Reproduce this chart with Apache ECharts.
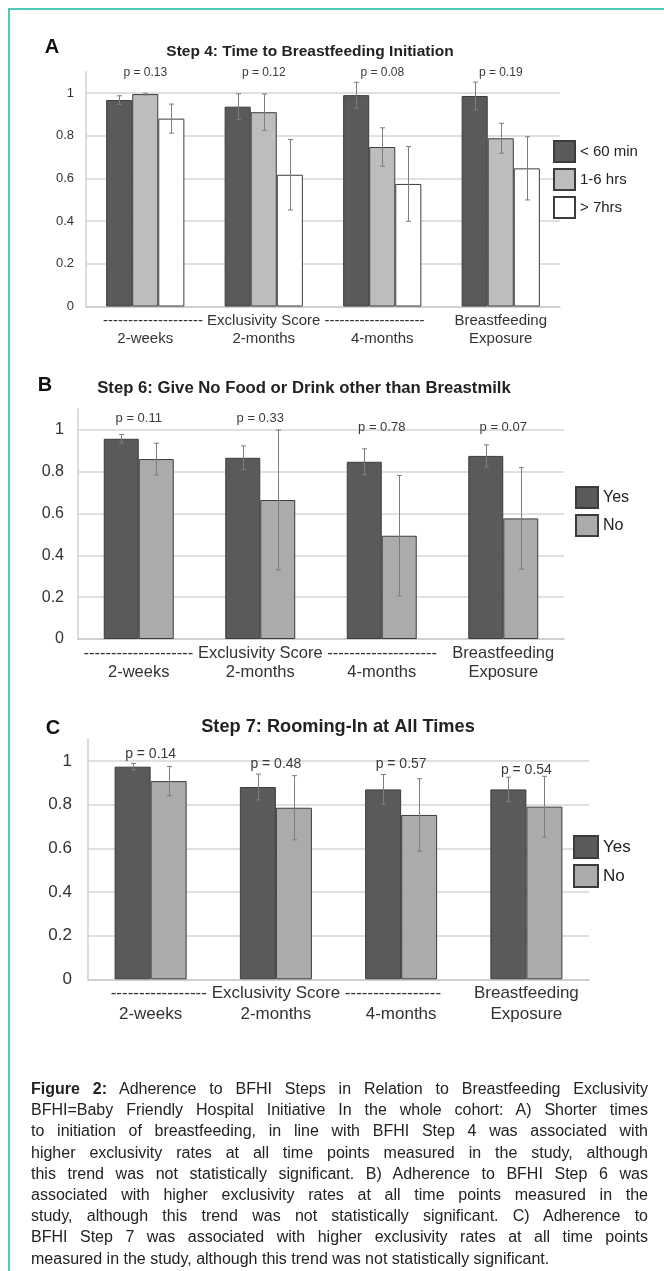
<!DOCTYPE html>
<html>
<head>
<meta charset="utf-8">
<script src="https://cdn.jsdelivr.net/npm/echarts@6/dist/echarts.min.js"></script>
<style>
  html, body { margin: 0; padding: 0; background: #fff; }
  #wrap { position: relative; width: 664px; height: 1271px; overflow: hidden; }
  #chart { position: absolute; left: 0; top: 0; width: 664px; height: 1271px; }
  #frame { position: absolute; left: 8px; top: 8px; width: 720px; height: 1300px;
           border-top: 2px solid #4fcab6; border-left: 2px solid #4fcab6; }
  #caption { position: absolute; left: 31px; top: 1078px; width: 617px;
             font-family: "Liberation Sans", Arial, sans-serif; font-size: 16px;
             line-height: 21.2px; color: #222; }
  #caption .ln { text-align: justify; text-align-last: justify; white-space: nowrap; }
  #caption .ln.last { text-align: left; text-align-last: left; }
</style>
</head>
<body>
<div id="wrap">
  <div id="chart"></div>
  <div id="frame"></div>
  <div id="caption"></div>
</div>
<script>
// ---------- DATA ----------
const categories = ['2-weeks', '2-months', '4-months', 'Breastfeeding Exposure'];
const groupLabel = 'Exclusivity Score';

// Panel A: Step 4, time to breastfeeding initiation
const titleA = 'Step 4: Time to Breastfeeding Initiation';
const seriesNamesA = ['< 60 min', '1-6 hrs', '> 7hrs'];
const aLess60 = [0.967, 0.936, 0.990, 0.986];
const aLess60Err = [0.020, 0.060, 0.060, 0.065];
const a1to6 = [0.995, 0.910, 0.747, 0.788];
const a1to6Err = [0.004, 0.085, 0.090, 0.070];
const aOver7 = [0.880, 0.617, 0.574, 0.647];
const aOver7Err = [0.068, 0.165, 0.175, 0.148];
const pA = ['p = 0.13', 'p = 0.12', 'p = 0.08', 'p = 0.19'];
const pAtA = [1.094, 1.094, 1.094, 1.094];

// Panel B: Step 6
const titleB = 'Step 6: Give No Food or Drink other than Breastmilk';
const seriesNamesB = ['Yes', 'No'];
const bYes = [0.958, 0.867, 0.848, 0.876];
const bYesErr = [0.020, 0.057, 0.062, 0.053];
const bNo = [0.861, 0.665, 0.494, 0.577];
const bNoErr = [0.076, 0.335, 0.288, 0.243];
const pB = ['p = 0.11', 'p = 0.33', 'p = 0.78', 'p = 0.07'];
const pAtB = [1.057, 1.057, 1.010, 1.010];

// Panel C: Step 7
const titleC = 'Step 7: Rooming-In at All Times';
const seriesNamesC = ['Yes', 'No'];
const cYes = [0.974, 0.881, 0.870, 0.870];
const cYesErr = [0.015, 0.059, 0.068, 0.056];
const cNo = [0.908, 0.786, 0.753, 0.791];
const cNoErr = [0.067, 0.147, 0.166, 0.139];
const pC = ['p = 0.14', 'p = 0.48', 'p = 0.57', 'p = 0.54'];
const pAtC = [1.032, 0.986, 0.986, 0.959];

const yTicks = [0, 0.2, 0.4, 0.6, 0.8, 1];

const captionLines = [
  '<b>Figure 2:</b> Adherence to BFHI Steps in Relation to Breastfeeding Exclusivity',
  'BFHI=Baby Friendly Hospital Initiative In the whole cohort: A) Shorter times',
  'to initiation of breastfeeding, in line with BFHI Step 4 was associated with',
  'higher exclusivity rates at all time points measured in the study, although',
  'this trend was not statistically significant. B) Adherence to BFHI Step 6 was',
  'associated with higher exclusivity rates at all time points measured in the',
  'study, although this trend was not statistically significant. C) Adherence to',
  'BFHI Step 7 was associated with higher exclusivity rates at all time points',
  'measured in the study, although this trend was not statistically significant.'
];

// ---------- STYLE / LAYOUT ----------
const FONT = '"Liberation Sans", Arial, sans-serif';
const DARK = '#5a5a5a', GREY_A = '#bdbdbd', GREY = '#ababab', WHITE = '#ffffff';
const BORDER = '#3c3c3c';

const panels = [
  { letter: 'A', letterPos: [52, 47], letterSize: 20,
    title: titleA, titlePos: [310, 52], titleSize: 15.5,
    grid: { left: 86, top: 71.65, width: 474, height: 234.85 },
    gap: 0.34, names: seriesNamesA,
    values: [aLess60, a1to6, aOver7], errs: [aLess60Err, a1to6Err, aOver7Err],
    colors: [DARK, GREY_A, WHITE],
    p: pA, pAt: pAtA, pSize: 12,
    yFont: 13, yMargin: 12, xFont: 15, xLine: 18, xMargin: 5, dashes: 20,
    legend: { left: 553, top: 140, w: 21, h: 21, gap: 5, font: 15 } },
  { letter: 'B', letterPos: [45, 385], letterSize: 20,
    title: titleB, titlePos: [304, 388], titleSize: 16.7,
    grid: { left: 78, top: 409.1, width: 486, height: 229.9 },
    gap: 0.424, names: seriesNamesB,
    values: [bYes, bNo], errs: [bYesErr, bNoErr],
    colors: [DARK, GREY],
    p: pB, pAt: pAtB, pSize: 13,
    yFont: 16, yMargin: 14, xFont: 16.5, xLine: 19, xMargin: 4.5, dashes: 20,
    legend: { left: 575, top: 486, w: 22, h: 21, gap: 5, font: 16 } },
  { letter: 'C', letterPos: [53, 728], letterSize: 20,
    title: titleC, titlePos: [338, 727], titleSize: 18.2,
    grid: { left: 88, top: 739.2, width: 501, height: 240.1 },
    gap: 0.425, names: seriesNamesC,
    values: [cYes, cNo], errs: [cYesErr, cNoErr],
    colors: [DARK, GREY],
    p: pC, pAt: pAtC, pSize: 14,
    yFont: 17, yMargin: 16, xFont: 17, xLine: 21, xMargin: 3.5, dashes: 17,
    legend: { left: 573, top: 835, w: 24, h: 22, gap: 5, font: 17 } }
];

// ---------- BUILD ----------
function errRender(n, idx, gap) {
  return function (params, api) {
    const cat = api.value(0), v = api.value(1), e = api.value(2);
    const band = api.size([1, 0])[0];
    const bw = band * (1 - gap) / n;
    const x = Math.round(api.coord([cat, 0])[0] + (idx - (n - 1) / 2) * bw) + 0.5;
    const yT = api.coord([cat, v + e])[1];
    const yB = api.coord([cat, v - e])[1];
    const st = { stroke: '#7d7d7d', lineWidth: 1 };
    return { type: 'group', children: [
      { type: 'line', shape: { x1: x, y1: yT, x2: x, y2: yB }, style: st },
      { type: 'line', shape: { x1: x - 2.5, y1: yT, x2: x + 2.5, y2: yT }, style: st },
      { type: 'line', shape: { x1: x - 2.5, y1: yB, x2: x + 2.5, y2: yB }, style: st }
    ] };
  };
}
function pRender(size) {
  return function (params, api) {
    const pt = api.coord([api.value(0), api.value(1)]);
    return { type: 'text', x: pt[0], y: pt[1],
      style: { text: pTexts[params.seriesIndex][params.dataIndex], fill: '#3a3a3a',
               font: size + 'px ' + FONT, align: 'center', verticalAlign: 'middle' } };
  };
}
const pTexts = {};

const grids = [], xAxes = [], yAxes = [], series = [], legends = [], graphics = [];
panels.forEach(function (P, k) {
  grids.push(P.grid);
  const dash = '-'.repeat(P.dashes);
  xAxes.push({
    type: 'category', gridIndex: k, data: categories,
    axisLine: { show: true, lineStyle: { color: '#c9c9c9', width: 1.5 } },
    axisTick: { show: false },
    axisLabel: {
      interval: 0, hideOverlap: false, margin: P.xMargin,
      fontFamily: FONT, fontSize: P.xFont, lineHeight: P.xLine, color: '#333',
      formatter: function (value, index) {
        if (index === 1) return dash + ' ' + groupLabel + ' ' + dash + '\n' + value;
        if (value.indexOf(' ') >= 0) return value.replace(' ', '\n');
        return '\n' + value;
      }
    }
  });
  yAxes.push({
    type: 'value', gridIndex: k, min: 0, max: 1.1, interval: 0.2,
    axisLine: { show: true, lineStyle: { color: '#d0d0d0', width: 1.5 } },
    axisTick: { show: false },
    splitLine: { show: true, showMaxLine: false, lineStyle: { color: '#d6d6d6', width: 1.5 } },
    axisLabel: { showMaxLabel: false, margin: P.yMargin, fontFamily: FONT, fontSize: P.yFont, color: '#333',
      formatter: function (v) { return yTicks.indexOf(Math.round(v * 10) / 10) >= 0 ? String(Math.round(v * 10) / 10) : ''; } }
  });
  const n = P.values.length;
  P.values.forEach(function (vals, i) {
    series.push({
      type: 'bar', name: P.names[i], xAxisIndex: k, yAxisIndex: k,
      data: vals, barGap: '0%', barCategoryGap: (P.gap * 100) + '%',
      itemStyle: { color: P.colors[i], borderColor: BORDER, borderWidth: 1 },
      emphasis: { disabled: true }, animation: false
    });
  });
  P.values.forEach(function (vals, i) {
    series.push({
      type: 'custom', xAxisIndex: k, yAxisIndex: k, z: 5, silent: true,
      renderItem: errRender(n, i, P.gap),
      data: vals.map(function (v, j) { return [j, v, P.errs[i][j]]; }),
      animation: false
    });
  });
  pTexts[series.length] = P.p;
  series.push({
    type: 'custom', xAxisIndex: k, yAxisIndex: k, z: 6, silent: true,
    renderItem: pRender(P.pSize), clip: false,
    data: P.pAt.map(function (v, j) { return [j, v]; }),
    animation: false
  });
  legends.push({
    orient: 'vertical', left: P.legend.left, top: P.legend.top, padding: 0,
    itemWidth: P.legend.w, itemHeight: P.legend.h, itemGap: P.legend.gap,
    icon: 'rect', selectedMode: false, data: P.names,
    textStyle: { fontFamily: FONT, fontSize: P.legend.font, color: '#222' }
  });
  graphics.push({ type: 'text', x: P.letterPos[0], y: P.letterPos[1],
    style: { text: P.letter, font: 'bold ' + P.letterSize + 'px ' + FONT, fill: '#111',
             align: 'center', verticalAlign: 'middle' } });
  graphics.push({ type: 'text', x: P.titlePos[0], y: P.titlePos[1],
    style: { text: P.title, font: 'bold ' + P.titleSize + 'px ' + FONT, fill: '#222',
             align: 'center', verticalAlign: 'middle' } });
});

const chart = echarts.init(document.getElementById('chart'), null, { renderer: 'canvas' });
chart.setOption({
  animation: false,
  backgroundColor: '#ffffff',
  grid: grids, xAxis: xAxes, yAxis: yAxes, series: series,
  legend: legends, graphic: graphics
});

document.getElementById('caption').innerHTML = captionLines.map(function (l, i) {
  return '<div class="ln' + (i === captionLines.length - 1 ? ' last' : '') + '">' + l + '</div>';
}).join('');
</script>
</body>
</html>
